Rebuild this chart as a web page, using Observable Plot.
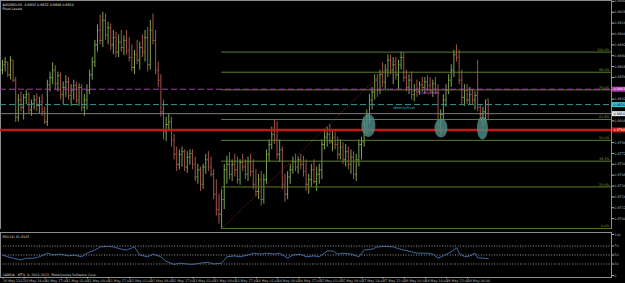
<!DOCTYPE html>
<html><head><meta charset="utf-8">
<script src="https://cdn.jsdelivr.net/npm/d3@7"></script>
<script src="https://cdn.jsdelivr.net/npm/@observablehq/plot@0.6"></script>
<style>
html,body{margin:0;padding:0;background:#000;}
#chart{position:relative;width:625px;height:283px;background:#000;overflow:hidden;}
#chart svg{display:block;}
</style></head><body><div id="chart"></div>
<script>
// ---- texts ----
const titleText = "AUDUSD,H1  0.9832 0.9832 0.9808 0.9816";
const subtitleText = "Pivot Levels";
const rsiText = "RSI(14) 41.8145";
const copyrightText = "OANDA - MT4, \u00a9 2001-2012, MetaQuotes Software Corp.";

// ---- OHLC (price x 10000), H1 bars ----
const opens = [9864,9870,9873,9859,9875,9853,9812,9831,9823,9834,9837,9820,9827,9831,9825,9829,9818,9807,9848,9856,
9864,9849,9858,9837,9845,9851,9836,9842,9847,9831,9845,9823,9831,9842,9859,9873,9892,9908,9897,9919,
9903,9911,9892,9900,9884,9895,9889,9897,9886,9878,9867,9881,9875,9889,9884,9900,9870,9908,9897,9864,
9853,9818,9796,9804,9807,9787,9771,9760,9771,9774,9757,9768,9772,9760,9746,9754,9738,9757,9765,9757,
9749,9727,9710,9705,9721,9754,9760,9749,9760,9754,9743,9762,9757,9749,9763,9752,9738,9730,9743,9721,
9743,9771,9782,9793,9787,9771,9776,9738,9727,9746,9754,9763,9757,9765,9760,9752,9738,9743,9754,9741,
9749,9754,9782,9790,9793,9785,9790,9782,9771,9779,9765,9774,9760,9768,9749,9765,9782,9785,9804,9815,
9831,9840,9853,9842,9859,9851,9864,9875,9864,9870,9859,9870,9878,9856,9845,9853,9837,9842,9840,9848,
9845,9851,9847,9842,9849,9840,9804,9815,9831,9842,9853,9864,9881,9878,9853,9834,9842,9831,9837,9831,
9836,9823,9815,9818,9832];
const highs = [9875,9878,9873,9879,9875,9856,9837,9840,9837,9842,9839,9831,9836,9838,9834,9837,9823,9853,9862,9872,
9869,9862,9861,9851,9858,9856,9848,9853,9851,9849,9848,9837,9848,9864,9878,9897,9914,9925,9928,9926,
9917,9915,9908,9906,9903,9908,9902,9908,9900,9892,9886,9897,9895,9903,9908,9911,9919,9926,9908,9873,
9859,9831,9812,9815,9812,9793,9779,9776,9779,9776,9774,9776,9776,9768,9760,9757,9760,9771,9774,9768,
9754,9743,9727,9732,9760,9769,9773,9765,9771,9768,9765,9771,9765,9768,9771,9765,9754,9749,9752,9749,
9776,9787,9801,9809,9807,9787,9779,9749,9752,9760,9768,9771,9768,9771,9769,9765,9749,9760,9765,9757,
9760,9787,9796,9801,9804,9798,9796,9790,9787,9784,9782,9779,9776,9774,9771,9787,9790,9809,9820,9837,
9845,9859,9859,9864,9872,9870,9881,9881,9878,9878,9875,9884,9883,9864,9859,9862,9848,9853,9851,9856,
9856,9858,9856,9853,9856,9848,9820,9837,9848,9859,9870,9886,9892,9886,9864,9848,9848,9845,9842,9840,
9875,9826,9823,9831,9832];
const lows = [9859,9862,9856,9853,9850,9806,9807,9818,9809,9826,9815,9813,9820,9818,9816,9813,9804,9802,9840,9848,
9842,9840,9831,9826,9834,9831,9824,9831,9827,9824,9818,9813,9820,9837,9853,9867,9884,9892,9889,9897,
9892,9886,9881,9878,9878,9884,9880,9881,9873,9862,9859,9870,9864,9878,9873,9862,9864,9892,9859,9845,
9812,9787,9785,9798,9779,9765,9752,9754,9757,9752,9750,9759,9754,9741,9738,9730,9732,9749,9752,9746,
9721,9703,9694,9689,9710,9738,9743,9741,9746,9738,9737,9752,9743,9741,9746,9732,9724,9721,9714,9716,
9738,9763,9776,9782,9765,9762,9732,9718,9721,9738,9749,9752,9749,9754,9746,9730,9727,9735,9738,9730,
9738,9743,9776,9779,9782,9774,9776,9765,9765,9760,9757,9754,9749,9743,9741,9757,9765,9779,9793,9804,
9820,9831,9834,9837,9845,9842,9856,9859,9848,9853,9842,9864,9851,9840,9837,9831,9829,9834,9836,9840,
9837,9840,9837,9834,9837,9796,9792,9809,9823,9837,9845,9856,9873,9848,9826,9824,9826,9825,9826,9820,
9818,9807,9802,9804,9808];
const closes = [9870,9873,9859,9875,9853,9812,9831,9823,9834,9837,9820,9827,9831,9825,9829,9818,9807,9848,9856,9864,
9849,9858,9837,9845,9851,9836,9842,9847,9831,9845,9823,9831,9842,9859,9873,9892,9908,9897,9919,9903,
9911,9892,9900,9884,9895,9889,9897,9886,9878,9867,9881,9875,9889,9884,9900,9870,9908,9897,9864,9853,
9818,9796,9804,9807,9787,9771,9760,9771,9774,9757,9768,9772,9760,9746,9754,9738,9757,9765,9757,9749,
9727,9710,9705,9721,9754,9760,9749,9760,9754,9743,9762,9757,9749,9763,9752,9738,9730,9743,9721,9743,
9771,9782,9793,9787,9771,9776,9738,9727,9746,9754,9763,9757,9765,9760,9752,9738,9743,9754,9741,9749,
9754,9782,9790,9793,9785,9790,9782,9771,9779,9765,9774,9760,9768,9749,9765,9782,9785,9804,9815,9831,
9840,9853,9842,9859,9851,9864,9875,9864,9870,9859,9870,9878,9856,9845,9853,9837,9842,9840,9848,9845,
9851,9847,9842,9849,9840,9804,9815,9831,9842,9853,9864,9881,9878,9853,9834,9842,9831,9837,9831,9836,
9823,9815,9818,9830,9816];

// ---- RSI(14): bar index and value ----
const rsiBars = [0,2,4,7,9,12,14,17,19,22,25,27,30,32,35,37,40,42,45,47,50,52,55,57,60,62,65,67,70,72,75,78,80,83,85,88,90,93,95,98,100,103,105,108,110,113,115,118,
120,123,125,127,129,132,135,137,140,142,145,148,150,152,155,157,161,163,165,167,170,172,173,175,177,179,180,182,184];
const rsiValues = [50,46,43,39,43,43,46,54,50,52,48,50,46,54,61,68,69,68,63,61,68,50,46,52,46,36,29,32,30,29,32,34,30,32,46,48,46,50,54,52,54,52,54,43,50,52,46,48,
46,59,59,52,54,52,46,61,63,68,69,68,64,61,57,54,54,52,43,48,57,66,54,46,48,54,44,43,42];

// ---- levels ----
const priceTicks = [0.9940,0.9928,0.9916,0.9904,0.9892,0.9880,0.9868,0.9856,0.9844,0.9832,0.9820,0.9808,0.9796,0.9784,0.9772,0.9760,0.9748,0.9736,0.9724,0.9712,0.9700];
const dailyPivot = 0.9843;
const weeklyPivot = 0.9826;
const bidPrice = 0.9816;
const supportLine = 0.9798;
const fibLow = 0.9689, fibLowBar = 83;
const fibHigh = 0.9884, fibHighBar = 152;
const fibRatios = [0, 0.236, 0.382, 0.5, 0.618, 0.786, 0.886, 1];
const ellipses = [{bar: 138.6, price: 0.9803}, {bar: 166.1, price: 0.9800}, {bar: 181.8, price: 0.9800}];
const pivotLabels = [{bar: 158.3, price: dailyPivot, text: "Daily Pivot"}, {bar: 148, price: weeklyPivot, text: "WeeklyPivot"}];
const rsiLevels = [70, 50, 30];
const rsiTicks = [100, 70, 50, 30, 0];
const timeBars = [0,8,16,24,32,40,48,56,64,72,80,88,96,104,112,120,128,136,144,152,160,168,176];
const timeLabels = ["18 May 2012","18 May 14:00","20 May 17:00","21 May 01:00","21 May 09:00","21 May 17:00","22 May 01:00","22 May 09:00","22 May 17:00","23 May 01:00","23 May 09:00","23 May 17:00","24 May 01:00","24 May 09:00","24 May 17:00","25 May 01:00","25 May 09:00","27 May 14:00","27 May 22:00","28 May 06:00","28 May 14:00","28 May 22:00","29 May 06:00"];

// ---- build tables ----
const bars = opens.map((o, i) => ({i, o: o/1e4, h: highs[i]/1e4, l: lows[i]/1e4, c: closes[i]/1e4}));
const rsi = rsiBars.map((b, k) => ({i: b, v: rsiValues[k]}));
const fibs = fibRatios.map(r => ({r, p: fibLow + r * (fibHigh - fibLow), label: (r * 100).toFixed(1) + "%"}));

const UP = "#7aa34f", DOWN = "#a0554a";
const barColor = d => d.c >= d.o ? UP : DOWN;
const xDomain = [-0.76, 230.7];
const xMax = xDomain[1];
const FONT = "'DejaVu Sans', sans-serif";
const FS = 3.3;

function ellipseSymbol(rx, ry) {
  const k = 0.5523;
  return {draw(ctx) {
    ctx.moveTo(rx, 0);
    ctx.bezierCurveTo(rx, ry*k, rx*k, ry, 0, ry);
    ctx.bezierCurveTo(-rx*k, ry, -rx, ry*k, -rx, 0);
    ctx.bezierCurveTo(-rx, -ry*k, -rx*k, -ry, 0, -ry);
    ctx.bezierCurveTo(rx*k, -ry, rx, -ry*k, rx, 0);
    ctx.closePath();
  }};
}
function boxSymbol(w, h) {
  return {draw(ctx) { ctx.moveTo(0, -h/2); ctx.lineTo(w, -h/2); ctx.lineTo(w, h/2); ctx.lineTo(0, h/2); ctx.closePath(); }};
}
const ellSizes = [[7, 11.5], [6.5, 9.5], [5.5, 11.5]];
const axisBoxes = [
  {p: dailyPivot, fill: "#b43cb4", text: "#ffffff"},
  {p: weeklyPivot, fill: "#38c4d4", text: "#000000"},
  {p: bidPrice, fill: "#e6e6e6", text: "#000000"},
  {p: supportLine, fill: "#c41616", text: "#ffffff"}
];
// tick labels hidden behind the coloured price boxes are not drawn
const visibleTicks = priceTicks.filter(t => !axisBoxes.some(b => Math.abs(b.p - t) < 0.0005));

const main = Plot.plot({
  width: 625, height: 229,
  marginLeft: 0, marginRight: 14, marginTop: 0, marginBottom: 0,
  style: {background: "#000", color: "#bdbdbd", fontFamily: FONT, fontSize: FS + "px"},
  x: {domain: xDomain, axis: null, label: null},
  y: {domain: [0.9688, 0.9941], label: null},
  marks: [
    Plot.frame({stroke: "#8c8c8c", strokeWidth: 1}),
    // OHLC bars
    Plot.ruleX(bars, {x: "i", y1: "l", y2: "h", stroke: barColor, strokeWidth: 1}),
    Plot.ruleY(bars, {y: "o", x1: d => d.i - 0.42, x2: "i", stroke: barColor, strokeWidth: 1}),
    Plot.ruleY(bars, {y: "c", x1: "i", x2: d => d.i + 0.42, stroke: barColor, strokeWidth: 1}),
    // fibonacci
    Plot.ruleY(fibs, {y: "p", x1: () => fibLowBar, x2: () => xMax, stroke: "#5e7e2c", strokeWidth: 1}),
    Plot.link([0], {x1: () => fibLowBar, y1: () => fibLow, x2: () => fibHighBar, y2: () => fibHigh, stroke: "#8a2e2e", strokeDasharray: "1,1.5", strokeWidth: 1}),
    Plot.text(fibs, {x: () => xMax, y: "p", text: "label", dx: -2, dy: -2.2, textAnchor: "end", fill: "#74a034", fontSize: FS}),
    // pivots and lines
    Plot.ruleY([dailyPivot], {stroke: "#a83ca8", strokeDasharray: "6,3", strokeWidth: 1}),
    Plot.ruleY([weeklyPivot], {stroke: "#3a9494", strokeDasharray: "6,3", strokeWidth: 1}),
    Plot.ruleY([bidPrice], {stroke: "#7c7c7c", strokeWidth: 1}),
    Plot.ruleY([supportLine], {stroke: "#c01818", strokeWidth: 2.5}),
    Plot.text(pivotLabels, {x: "bar", y: "price", text: "text", dy: 3.3, textAnchor: "start",
      fill: (d, k) => k === 0 ? "#d050d0" : "#30b8c8", fontSize: 3.6}),
    // ellipses
    ...ellipses.map((e, k) => Plot.dot([e], {x: "bar", y: "price", symbol: ellipseSymbol(...ellSizes[k]),
      fill: "#4e8a84", fillOpacity: 0.82, stroke: "none"})),
    // price axis
    Plot.axisY(visibleTicks, {anchor: "right", label: null, tickSize: 2, tickPadding: 0.8, tickFormat: d => d.toFixed(4),
      color: "#b8b8b8", fontSize: FS}),
    Plot.dot(axisBoxes, {x: () => xMax, y: "p", symbol: boxSymbol(14, 5), fill: "fill", stroke: "none", dx: 0.5}),
    Plot.text(axisBoxes, {x: () => xMax, y: "p", text: d => d.p.toFixed(4), fill: "text", dx: 2, textAnchor: "start", fontSize: FS}),
    // title
    Plot.text([titleText], {frameAnchor: "top-left", text: d => d, dx: 2, dy: 3, textAnchor: "start", fill: "#e4e4e4", fontSize: FS}),
    Plot.text([subtitleText], {frameAnchor: "top-left", text: d => d, dx: 2, dy: 7.5, textAnchor: "start", fill: "#e4e4e4", fontSize: FS})
  ]
});

const sub = Plot.plot({
  width: 625, height: 54,
  marginLeft: 0, marginRight: 14, marginTop: 3, marginBottom: 6,
  style: {background: "#000", color: "#bdbdbd", fontFamily: FONT, fontSize: FS + "px"},
  x: {domain: xDomain, label: null},
  y: {domain: [0, 100], label: null},
  marks: [
    Plot.frame({stroke: "#8c8c8c", strokeWidth: 1}),
    Plot.ruleY(rsiLevels, {stroke: "#9a9a9a", strokeDasharray: "1,1.6", strokeWidth: 1}),
    Plot.line(rsi, {x: "i", y: "v", stroke: "#4674b0", strokeWidth: 0.9}),
    Plot.axisY(rsiTicks.slice(1, -1), {anchor: "right", label: null, tickSize: 2, tickPadding: 0.8, color: "#b8b8b8", fontSize: FS}),
    Plot.axisY(rsiTicks.slice(0, 1), {anchor: "right", label: null, tickSize: 2, tickPadding: 0.8, color: "#b8b8b8", fontSize: FS, dy: 2}),
    Plot.axisY(rsiTicks.slice(-1), {anchor: "right", label: null, tickSize: 2, tickPadding: 0.8, color: "#b8b8b8", fontSize: FS, dy: -2}),
    Plot.axisX(timeBars, {anchor: "bottom", label: null, tickSize: 1.5, tickPadding: 0.6, textAnchor: "start", dx: 0.5,
      tickFormat: d => timeLabels[timeBars.indexOf(d)], color: "#b8b8b8", fontSize: FS}),
    Plot.text([rsiText], {frameAnchor: "top-left", text: d => d, dx: 2, dy: 3, textAnchor: "start", fill: "#d0d0d0", fontSize: FS}),
    Plot.text([copyrightText], {frameAnchor: "bottom-left", text: d => d, dx: 2, dy: -2, textAnchor: "start", fill: "#d0d0d0", fontSize: FS})
  ]
});

const root = document.getElementById("chart");
root.appendChild(main);
root.appendChild(sub);
</script>
</body></html>
